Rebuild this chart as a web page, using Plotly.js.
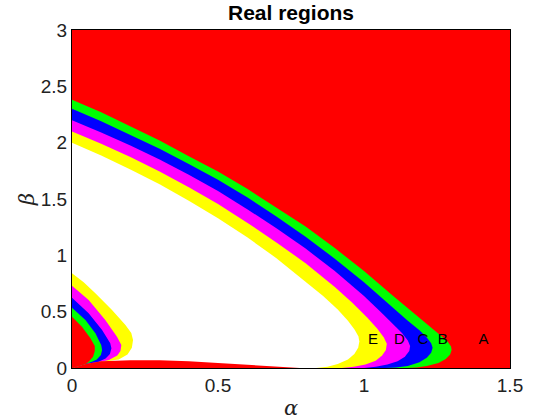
<!DOCTYPE html>
<html>
<head>
<meta charset="utf-8">
<script src="https://cdn.plot.ly/plotly-3.0.1.min.js"></script>
<style>
  html, body { margin: 0; padding: 0; background: #fff; }
  #chart { width: 560px; height: 420px; }
</style>
</head>
<body>
<div id="chart"></div>
<script>
// axis ranges
const alphaRange = [0, 1.5];
const betaRange = [0, 3];

// main region boundaries (alpha, beta)
// green / red
const grAlpha = [0, 0.1, 0.2, 0.3, 0.4, 0.5, 0.6, 0.7, 0.8, 0.9, 1.0, 1.1, 1.17, 1.22, 1.26, 1.285, 1.298, 1.300, 1.295, 1.280, 1.255, 1.215, 1.180, 1.144];
const grBeta  = [2.38, 2.27, 2.146, 2.02, 1.88, 1.745, 1.59, 1.425, 1.255, 1.065, 0.86, 0.64, 0.49, 0.385, 0.30, 0.24, 0.19, 0.16, 0.12, 0.08, 0.045, 0.017, 0.005, 0];
// blue / green
const bgAlpha = [0, 0.1, 0.2, 0.3, 0.4, 0.5, 0.6, 0.7, 0.8, 0.9, 1.0, 1.1, 1.15, 1.19, 1.215, 1.230, 1.235, 1.230, 1.215, 1.190, 1.150, 1.110, 1.073];
const bgBeta  = [2.30, 2.19, 2.07, 1.945, 1.81, 1.67, 1.515, 1.345, 1.165, 0.97, 0.76, 0.53, 0.42, 0.335, 0.27, 0.22, 0.18, 0.135, 0.09, 0.05, 0.018, 0.005, 0];
// magenta / blue
const mbAlpha = [0, 0.1, 0.2, 0.3, 0.4, 0.5, 0.6, 0.7, 0.8, 0.9, 1.0, 1.06, 1.10, 1.13, 1.15, 1.158, 1.155, 1.140, 1.115, 1.080, 1.040, 1.000];
const mbBeta  = [2.20, 2.09, 1.975, 1.85, 1.715, 1.57, 1.41, 1.24, 1.06, 0.86, 0.64, 0.49, 0.39, 0.31, 0.245, 0.195, 0.15, 0.10, 0.06, 0.03, 0.01, 0];
// yellow / magenta
const ymAlpha = [0, 0.1, 0.2, 0.3, 0.4, 0.5, 0.6, 0.7, 0.8, 0.9, 0.96, 1.01, 1.045, 1.068, 1.078, 1.075, 1.062, 1.040, 1.005, 0.965, 0.924];
const ymBeta  = [2.10, 1.99, 1.872, 1.745, 1.605, 1.455, 1.29, 1.115, 0.93, 0.72, 0.58, 0.45, 0.35, 0.27, 0.215, 0.16, 0.11, 0.065, 0.03, 0.01, 0];
// white / yellow
const wyAlpha = [0, 0.1, 0.2, 0.3, 0.4, 0.5, 0.6, 0.7, 0.8, 0.86, 0.91, 0.945, 0.968, 0.981, 0.984, 0.980, 0.967, 0.945, 0.910, 0.875, 0.836];
const wyBeta  = [2.00, 1.885, 1.762, 1.63, 1.485, 1.33, 1.16, 0.975, 0.77, 0.64, 0.52, 0.42, 0.34, 0.28, 0.235, 0.18, 0.125, 0.075, 0.035, 0.012, 0];

// small region near the origin
const syAlpha = [0, 0.040, 0.080, 0.137, 0.183, 0.203, 0.209, 0.205, 0.190, 0.160, 0.120, 0.080, 0.046];
const syBeta  = [0.84, 0.760, 0.663, 0.515, 0.382, 0.310, 0.249, 0.180, 0.120, 0.075, 0.058, 0.047, 0.035];
const smAlpha = [0, 0.057, 0.114, 0.154, 0.169, 0.166, 0.155, 0.126, 0.080, 0.046];
const smBeta  = [0.73, 0.604, 0.426, 0.278, 0.204, 0.150, 0.110, 0.071, 0.045, 0.035];
const sbAlpha = [0, 0.057, 0.103, 0.131, 0.135, 0.130, 0.115, 0.091, 0.046];
const sbBeta  = [0.624, 0.485, 0.337, 0.219, 0.175, 0.125, 0.085, 0.056, 0.035];
const sgAlpha = [0, 0.046, 0.080, 0.100, 0.103, 0.099, 0.085, 0.068, 0.046];
const sgBeta  = [0.535, 0.426, 0.308, 0.204, 0.160, 0.115, 0.075, 0.056, 0.035];
const srAlpha = [0, 0.034, 0.063, 0.078, 0.078, 0.072, 0.057, 0.046];
const srBeta  = [0.455, 0.367, 0.264, 0.195, 0.150, 0.100, 0.056, 0.035];

// thin red strip along the alpha axis (its upper edge)
const slAlpha = [0.046, 0.10, 0.20, 0.30, 0.40, 0.50, 0.60, 0.70, 0.78];
const slBeta  = [0.035, 0.060, 0.068, 0.068, 0.060, 0.045, 0.030, 0.015, 0];

// region labels
const labelText  = ['E', 'D', 'C', 'B', 'A'];
const labelAlpha = [1.031, 1.121, 1.202, 1.270, 1.409];
const labelBeta  = [0.25, 0.25, 0.25, 0.25, 0.25];

const RED = '#ff0000', GREEN = '#00ff00', BLUE = '#0000ff', MAGENTA = '#ff00ff', YELLOW = '#ffff00', WHITE = '#ffffff';
const SANS = 'Liberation Sans, Arial, sans-serif';

// region under a boundary curve, closed through the origin
function region(a, b, color) {
    return {
        x: [0, ...a], y: [0, ...b],
        type: 'scatter', mode: 'lines',
        fill: 'toself', fillcolor: color,
        line: { width: 0, color: color },
        hoverinfo: 'skip', showlegend: false
    };
}

const background = {
    x: [alphaRange[0], alphaRange[1], alphaRange[1], alphaRange[0]],
    y: [betaRange[0], betaRange[0], betaRange[1], betaRange[1]],
    type: 'scatter', mode: 'lines', fill: 'toself', fillcolor: RED,
    line: { width: 0, color: RED }, hoverinfo: 'skip', showlegend: false
};

const traces = [
    background,
    region(grAlpha, grBeta, GREEN),
    region(bgAlpha, bgBeta, BLUE),
    region(mbAlpha, mbBeta, MAGENTA),
    region(ymAlpha, ymBeta, YELLOW),
    region(wyAlpha, wyBeta, WHITE),
    region(syAlpha, syBeta, YELLOW),
    region(smAlpha, smBeta, MAGENTA),
    region(sbAlpha, sbBeta, BLUE),
    region(sgAlpha, sgBeta, GREEN),
    region(srAlpha, srBeta, RED),
    region(slAlpha, slBeta, RED),
    {
        x: labelAlpha, y: labelBeta, text: labelText,
        type: 'scatter', mode: 'text',
        textposition: 'middle center',
        textfont: { family: SANS, size: 15, color: '#000' },
        hoverinfo: 'skip', showlegend: false
    }
];

const axisCommon = {
    showgrid: false, zeroline: false,
    showline: true, linecolor: '#000', linewidth: 1, mirror: true,
    ticks: 'inside', ticklen: 5, tickcolor: '#000',
    layer: 'below traces',
    tickfont: { family: SANS, size: 19, color: '#222' }
};

const layout = {
    width: 560, height: 420,
    paper_bgcolor: '#fff', plot_bgcolor: '#fff',
    margin: { l: 72, r: 50, t: 30, b: 52 },
    title: {
        text: '<b>Real regions</b>',
        font: { family: SANS, size: 21, color: '#000' },
        x: 0.5, xref: 'paper', y: 1 - 13 / 420, yref: 'container', yanchor: 'middle'
    },
    xaxis: {
        ...axisCommon, range: alphaRange, tickvals: [0, 0.5, 1, 1.5],
        title: { text: '<i>α</i>', font: { family: 'DejaVu Serif, serif', size: 21, color: '#222' }, standoff: 5 }
    },
    yaxis: {
        ...axisCommon, range: betaRange, dtick: 0.5,
        title: { text: '<i>β</i>', font: { family: 'DejaVu Serif, serif', size: 21, color: '#222' }, standoff: 0 }
    },
    showlegend: false
};

Plotly.newPlot('chart', traces, layout, { staticPlot: true, displayModeBar: false });
</script>
</body>
</html>
